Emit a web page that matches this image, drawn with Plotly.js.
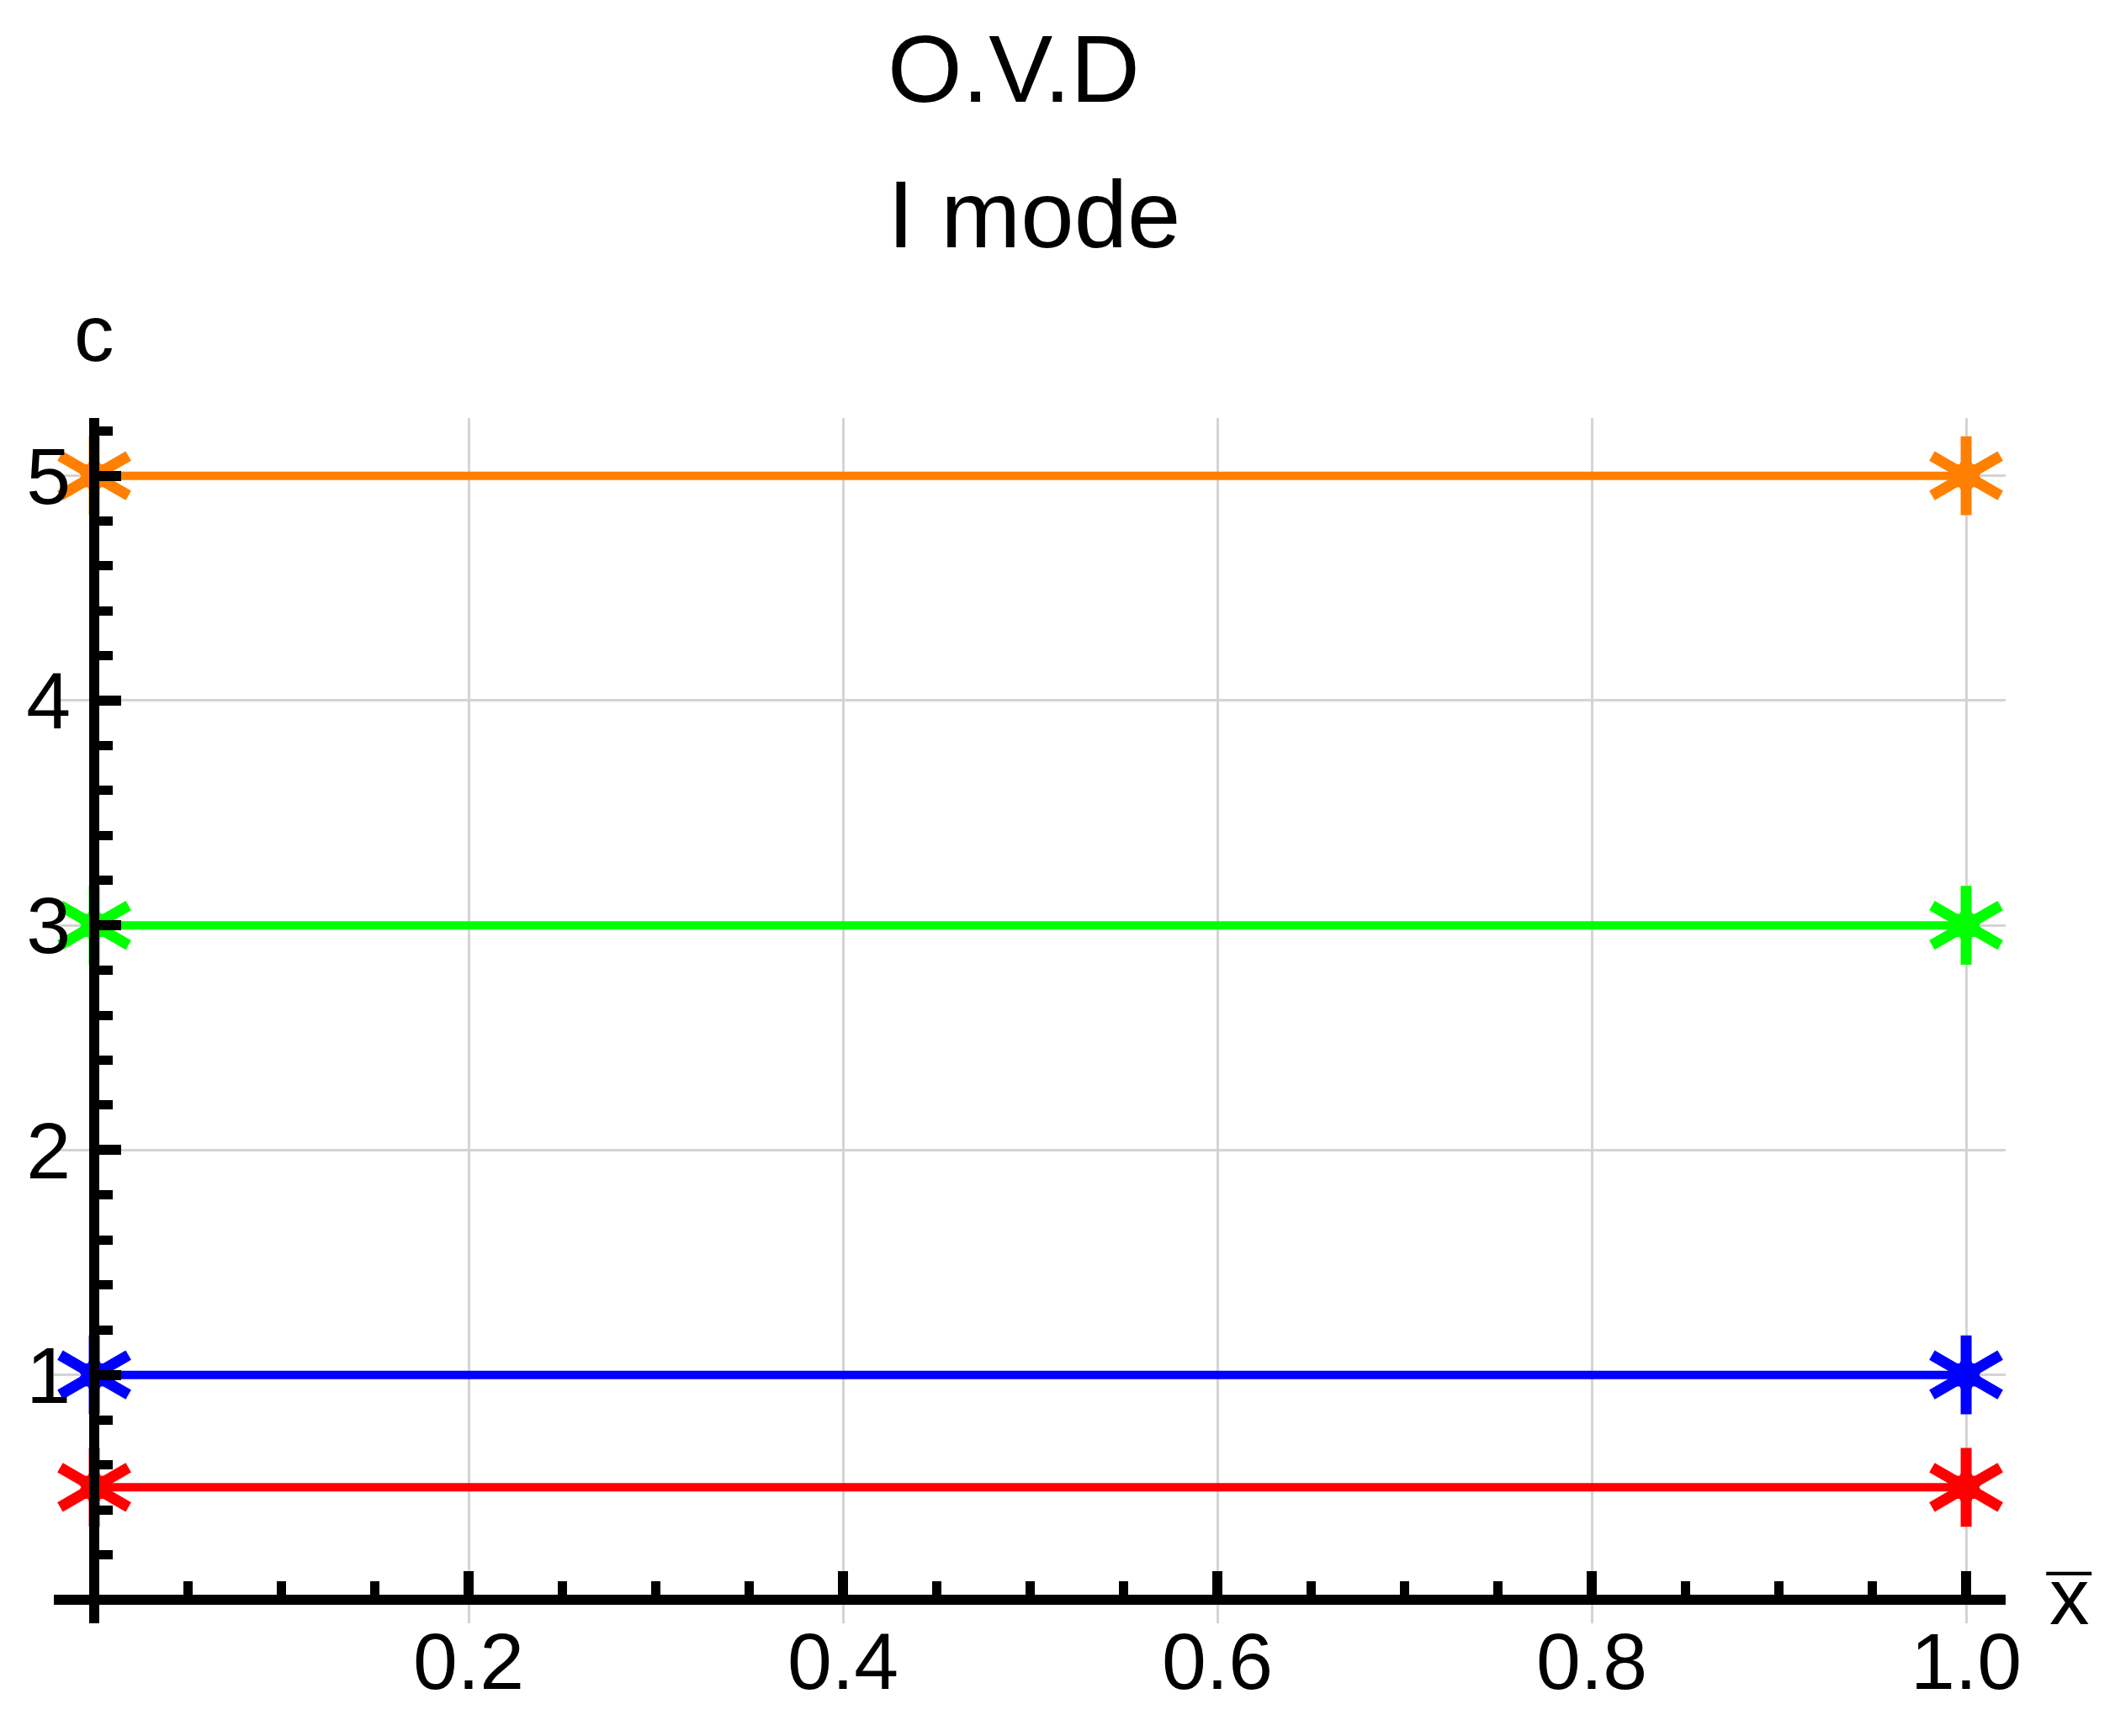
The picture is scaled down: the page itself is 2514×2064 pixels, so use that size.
<!DOCTYPE html>
<html>
<head>
<meta charset="utf-8">
<script src="https://cdn.plot.ly/plotly-3.0.1.min.js"></script>
<style>html,body{margin:0;padding:0;background:#fff;}</style>
</head>
<body>
<div id="chart" style="width:2514px;height:2064px;"></div>
<script>
// ---- data ----
const xEnds = [0, 1];
const cRed = [0.5, 0.5];
const cBlue = [1, 1];
const cGreen = [3, 3];
const cOrange = [5, 5];
const xTickVals = [0.2, 0.4, 0.6, 0.8, 1.0];
const xTickText = ['0.2', '0.4', '0.6', '0.8', '1.0'];
const yTickVals = [1, 2, 3, 4, 5];
const yTickText = ['1', '2', '3', '4', '5'];
const titleLines = ['O.V.D', 'I mode'];
const xLabel = 'x';
const xLabelBar = '\u00AF';
const yLabel = 'c';

// ---- styling ----
const FONT = 'Liberation Sans, Arial, sans-serif';
const xRange = [-0.0216, 1.0211];
const yRange = [-0.105, 5.257];
const series = [
  {y: cRed, color: '#FF0000'},
  {y: cBlue, color: '#0000FF'},
  {y: cGreen, color: '#00FF00'},
  {y: cOrange, color: '#FF8000'}
];
const starAngles = [0, 60, 120];

const traces = [];
series.forEach(s => {
  traces.push({
    x: xEnds, y: s.y, type: 'scatter', mode: 'lines',
    line: {color: s.color, width: 10},
    cliponaxis: false, showlegend: false, hoverinfo: 'skip'
  });
  starAngles.forEach(a => {
    traces.push({
      x: xEnds, y: s.y, type: 'scatter', mode: 'markers',
      marker: {symbol: 'line-ns-open', size: 67, angle: a, color: s.color, line: {color: s.color, width: 13}},
      cliponaxis: false, showlegend: false, hoverinfo: 'skip'
    });
  });
  traces.push({
    x: xEnds, y: s.y, type: 'scatter', mode: 'markers',
    marker: {symbol: 'hexagram', size: 40, color: s.color, line: {color: s.color, width: 1}},
    cliponaxis: false, showlegend: false, hoverinfo: 'skip'
  });
});

const posX = (0 - yRange[0]) / (yRange[1] - yRange[0]);
const posY = (0 - xRange[0]) / (xRange[1] - xRange[0]);

const mt = 497, mb = 134, ml = 64, mr = 130, W = 2514, H = 2064;
const ph = H - mt - mb, pw = W - ml - mr;
function paperY(py) { return (H - mb - py) / ph; }
function paperX(px) { return (px - ml) / pw; }

const layout = {
  width: W, height: H,
  margin: {l: ml, r: mr, t: mt, b: mb, pad: 0},
  paper_bgcolor: '#ffffff', plot_bgcolor: '#ffffff',
  showlegend: false,
  font: {family: FONT, color: '#000'},
  xaxis: {
    range: xRange, anchor: 'free', position: posX, side: 'bottom',
    showline: true, linecolor: '#000', linewidth: 12, zeroline: false,
    tickmode: 'array', tickvals: xTickVals, ticktext: xTickText,
    ticks: 'inside', ticklen: 28, tickwidth: 12, tickcolor: '#000',
    showgrid: true, gridcolor: '#d4d4d4', gridwidth: 3,
    tickfont: {family: FONT, size: 95, color: '#000'},
    ticklabelstandoff: -14,
    minor: {dtick: 0.05, tick0: 0, ticks: 'inside', ticklen: 16, tickwidth: 11, tickcolor: '#000', showgrid: false},
    fixedrange: true
  },
  yaxis: {
    range: yRange, anchor: 'free', position: posY, side: 'left',
    showline: true, linecolor: '#000', linewidth: 12, zeroline: false,
    tickmode: 'array', tickvals: yTickVals, ticktext: yTickText,
    ticks: 'inside', ticklen: 26, tickwidth: 12, tickcolor: '#000',
    showgrid: true, gridcolor: '#d4d4d4', gridwidth: 3,
    tickfont: {family: FONT, size: 95, color: '#000'},
    ticklabelstandoff: 3,
    minor: {dtick: 0.2, tick0: 0, ticks: 'inside', ticklen: 16, tickwidth: 11, tickcolor: '#000', showgrid: false},
    fixedrange: true
  },
  annotations: [
    {text: titleLines[0], xref: 'paper', yref: 'paper', x: paperX(1053), y: paperY(82),
     xanchor: 'left', yanchor: 'middle', showarrow: false, font: {family: FONT, size: 114, color: '#000'}},
    {text: titleLines[1], xref: 'paper', yref: 'paper', x: paperX(1053), y: paperY(255),
     xanchor: 'left', yanchor: 'middle', showarrow: false, font: {family: FONT, size: 114, color: '#000'}},
    {text: yLabel, xref: 'paper', yref: 'paper', x: paperX(112), y: paperY(396),
     xanchor: 'center', yanchor: 'middle', showarrow: false, font: {family: FONT, size: 95, color: '#000'}},
    {text: xLabel, xref: 'paper', yref: 'paper', x: paperX(2460), y: paperY(1898),
     xanchor: 'center', yanchor: 'middle', showarrow: false, font: {family: FONT, size: 95, color: '#000'}},
    {text: xLabelBar, xref: 'paper', yref: 'paper', x: paperX(2460), y: paperY(1907),
     xanchor: 'center', yanchor: 'middle', showarrow: false, font: {family: FONT, size: 95, color: '#000'}}
  ]
};

Plotly.newPlot('chart', traces, layout, {staticPlot: true, displayModeBar: false});
</script>
</body>
</html>
